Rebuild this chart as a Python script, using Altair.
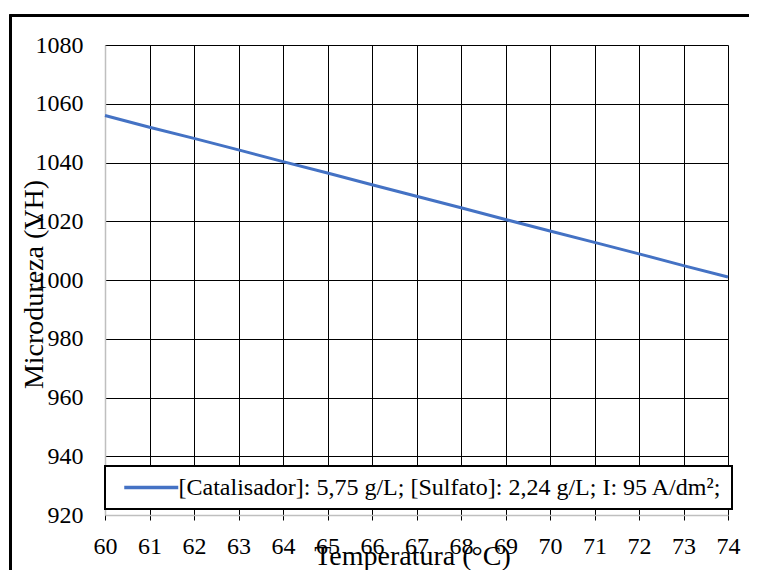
import altair as alt
import pandas as pd

temperatura = [60, 61, 62, 63, 64, 65, 66, 67, 68, 69, 70, 71, 72, 73, 74]
microdureza = [1056.0, 1052.0, 1048.2, 1044.3, 1040.3, 1036.4, 1032.4, 1028.5,
               1024.6, 1020.6, 1016.7, 1012.8, 1008.9, 1004.9, 1001.0]
serie = "[Catalisador]: 5,75 g/L; [Sulfato]: 2,24 g/L; I: 95 A/dm²;"
x_ticks = list(range(60, 75))
y_ticks = list(range(920, 1081, 20))

df = pd.DataFrame({"T": temperatura, "H": microdureza, "s": [serie] * len(temperatura)})

FONT = "Liberation Serif"

line = alt.Chart(df).mark_line(strokeWidth=3, clip=False).encode(
    x=alt.X("T:Q", scale=alt.Scale(domain=[60, 74], nice=False, zero=False),
            axis=alt.Axis(values=x_ticks, title="Temperatura (°C)", format="d",
                          grid=True, gridColor="#000000", gridWidth=1,
                          domainColor="#BFBFBF", domainWidth=1.5,
                          ticks=True, tickSize=5, tickColor="#000000", tickWidth=1,
                          labelFont=FONT, labelFontSize=24, labelColor="#000000",
                          labelPadding=14, labelFlush=False,
                          titleFont=FONT, titleFontSize=28, titleFontWeight="normal",
                          titleColor="#000000", titleBaseline="alphabetic",
                          titleY=49, titleX=307)),
    y=alt.Y("H:Q", scale=alt.Scale(domain=[920, 1080], nice=False, zero=False),
            axis=alt.Axis(values=y_ticks, title="Microdureza (VH)", format="d",
                          grid=True, gridColor="#000000", gridWidth=1,
                          domainColor="#BFBFBF", domainWidth=1.5,
                          ticks=False, tickSize=0,
                          labelFont=FONT, labelFontSize=24, labelColor="#000000",
                          labelPadding=22, labelFlush=False,
                          titleFont=FONT, titleFontSize=28, titleFontWeight="normal",
                          titleColor="#000000", titleBaseline="middle",
                          titleX=-71, titleY=239, titleAngle=-90)),
    color=alt.Color("s:N", scale=alt.Scale(domain=[serie], range=["#4472C4"]),
                    legend=alt.Legend(title=None, orient="none", legendX=0, legendY=421,
                                      symbolType="M-1,0H7", symbolSize=182.25,
                                      symbolStrokeWidth=3.5, symbolOffset=4.5,
                                      labelFont=FONT, labelFontSize=24, labelColor="#000000",
                                      labelOffset=35.5, padding=9.5,
                                      strokeColor="#000000", fillColor="#FFFFFF",
                                      labelLimit=1000)),
)

border = alt.Chart(df).mark_rect(fill=None, stroke="#000000", strokeWidth=2, clip=False).encode(
    x=alt.value(-94.5), x2=alt.value(760), y=alt.value(-29.2), y2=alt.value(700)
)

chart = alt.layer(border, line).properties(
    width=623, height=470,
    autosize=alt.AutoSizeParams(type="none"),
    padding={"left": 97, "top": 37, "right": 21, "bottom": 55},
).configure_view(stroke=None).configure_legend(strokeWidth=2)

chart.save("out.html", embed_options={"renderer": "svg", "actions": False})
